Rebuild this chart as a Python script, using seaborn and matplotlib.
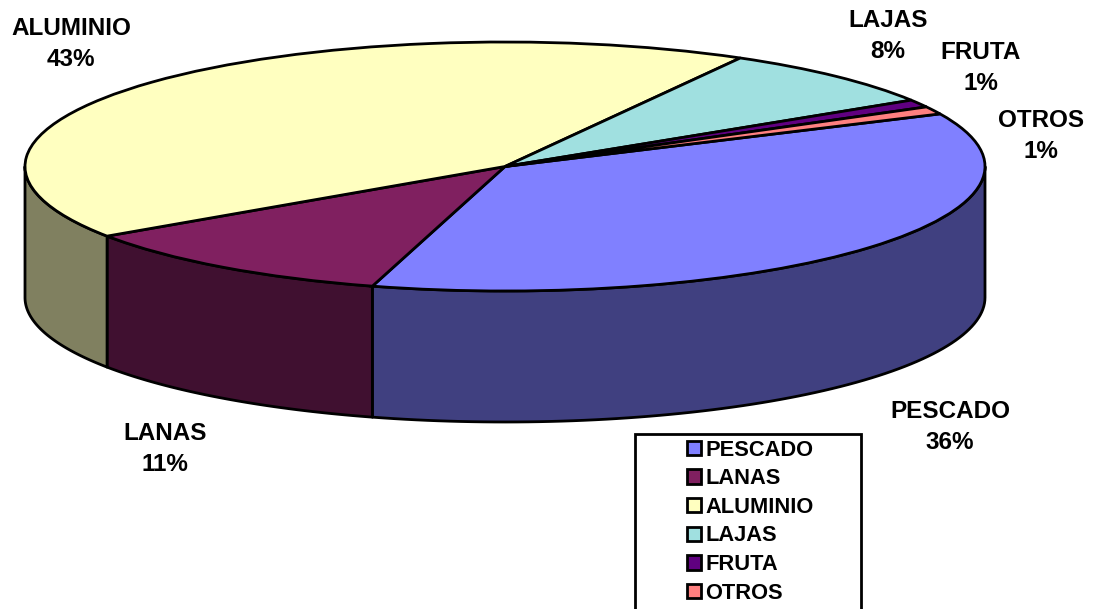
import numpy as np
import matplotlib
matplotlib.use('Agg')
import matplotlib.pyplot as plt
from matplotlib.patches import Patch, Rectangle
import seaborn as sns

names = ['PESCADO', 'LANAS', 'ALUMINIO', 'LAJAS', 'FRUTA', 'OTROS']
values = [36.4, 11.1, 42.6, 7.9, 1.0, 1.0]
top_colors = ['#8080FF', '#802060', '#FFFFC0', '#A0E0E0', '#600080', '#FF8080']
side_colors = ['#404080', '#401030', '#808060', '#508080', '#300040', '#804040']

W, H = 1096, 609
CX, CY, RX, RY = 505, 166.5, 480, 124.5
DEPTH = 131 / RY
START = 25

sns.set_style('white')
plt.rcParams['font.family'] = ['Liberation Sans', 'DejaVu Sans']
plt.rcParams['font.weight'] = 'bold'
plt.rcParams['text.color'] = 'black'


def fx(x):
    return x / W


def fy(y):
    return 1 - y / H


fig = plt.figure(figsize=(W / 100, H / 100), dpi=100)
ax = fig.add_axes([0, 0, 1, 1])

# side wall first, only the front half of the rim shows
angles = START - np.cumsum([0] + values) * 3.6
for i in range(len(values)):
    hi = min(angles[i], 0)
    lo = max(angles[i + 1], -180)
    if hi <= lo:
        continue
    t = np.radians(np.linspace(hi, lo, 80))
    xs = np.r_[np.cos(t), np.cos(t[::-1])]
    ys = np.r_[np.sin(t), np.sin(t[::-1]) - DEPTH]
    ax.fill(xs, ys, facecolor=side_colors[i], edgecolor='black', lw=2.0, joinstyle='round')

# top of the pie, squashed by the non equal axes below
ax.pie(values, colors=top_colors, startangle=START, counterclock=False, radius=1,
       wedgeprops={'edgecolor': 'black', 'linewidth': 2.0})
ax.set_aspect('auto')
ax.set_xlim(-CX / RX, (W - CX) / RX)
ax.set_ylim(-(H - CY) / RY, CY / RY)
ax.axis('off')

# label centres in pixels
label_pos = [(950, 427), (165, 449), (71, 44), (888, 36), (981, 68), (1041, 136)]
for name, val, (px, py) in zip(names, values, label_pos):
    fig.text(fx(px), fy(py), '%s\n%d%%' % (name, round(val)), ha='center', va='center',
             fontsize=17.45, fontweight='bold', color='black', linespacing=1.48)

# legend box runs off the bottom of the picture
fig.add_artist(Rectangle((fx(634.5), fy(640)), (861 - 634.5) / W, (640 - 433.5) / H,
                         transform=fig.transFigure, facecolor='white', edgecolor='black', lw=2.0,
                         clip_on=False, zorder=3))
handles = [Patch(facecolor=c, edgecolor='black', lw=2.0) for c in top_colors]
leg = fig.legend(handles, names, loc='upper left', bbox_to_anchor=(fx(687), fy(439.5)),
                 frameon=False, fontsize=15.75, handlelength=0.62, handleheight=0.62,
                 handletextpad=0.22, labelspacing=0.35, borderpad=0, borderaxespad=0,
                 labelcolor='black')
leg.set_zorder(4)

fig.savefig('out.png', dpi=100)
plt.close(fig)
